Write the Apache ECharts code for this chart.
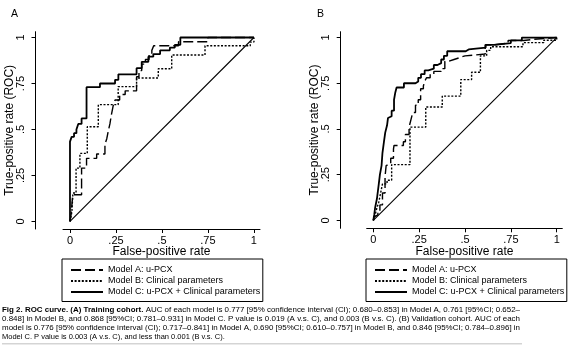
<!DOCTYPE html>
<html><head><meta charset="utf-8">
<script src="https://cdn.jsdelivr.net/npm/echarts@6/dist/echarts.min.js"></script>
<style>html,body{margin:0;padding:0;background:#fff}#c{width:568px;height:356px}</style>
</head><body><div id="c"></div>
<script>
// ---------- data ----------
const tickValues = [0, 0.25, 0.5, 0.75, 1];
const tickLabels = ['0', '.25', '.5', '.75', '1'];
const seriesNames = ['Model A: u-PCX', 'Model B: Clinical parameters', 'Model C: u-PCX + Clinical parameters'];
const panelLabels = ['A', 'B'];
const xTitle = 'False-positive rate';
const yTitle = 'True-positive rate (ROC)';

// (A) Training cohort
const trainA = [[0,0],[0.005,0.03],[0.015,0.145],[0.063,0.29],[0.09,0.343],[0.145,0.367],[0.19,0.42],[0.2,0.45],[0.21,0.5],[0.217,0.53],[0.225,0.58],[0.235,0.63],[0.245,0.66],[0.27,0.69],[0.3,0.71],[0.362,0.787],[0.375,0.82],[0.39,0.855],[0.41,0.88],[0.43,0.91],[0.445,0.93],[0.455,0.955],[0.59,0.977],[0.75,1],[1,1]];
const trainB = [[0,0],[0.01,0.05],[0.016,0.155],[0.033,0.29],[0.054,0.37],[0.094,0.515],[0.154,0.635],[0.262,0.733],[0.362,0.78],[0.48,0.83],[0.553,0.905],[0.734,0.955],[0.96,0.955],[0.98,0.975],[1,1]];
const trainC = [[0,0],[0,0.434],[0.009,0.46],[0.022,0.48],[0.035,0.5],[0.045,0.53],[0.063,0.56],[0.09,0.73],[0.163,0.75],[0.245,0.77],[0.263,0.8],[0.362,0.833],[0.39,0.868],[0.426,0.896],[0.453,0.91],[0.49,0.93],[0.543,0.945],[0.57,0.96],[0.6,1],[1,1]];
// (B) Validation cohort
const validA = [[0,0],[0.005,0.02],[0.015,0.03],[0.025,0.05],[0.036,0.085],[0.05,0.15],[0.064,0.24],[0.07,0.3],[0.08,0.31],[0.095,0.34],[0.11,0.39],[0.113,0.41],[0.164,0.43],[0.175,0.47],[0.195,0.51],[0.205,0.55],[0.215,0.59],[0.23,0.63],[0.245,0.66],[0.258,0.72],[0.273,0.735],[0.28,0.76],[0.29,0.78],[0.31,0.8],[0.33,0.815],[0.37,0.83],[0.39,0.87],[0.41,0.88],[0.44,0.89],[0.47,0.9],[0.5,0.91],[0.61,0.96],[0.658,0.97],[0.735,0.984],[0.82,0.99],[0.87,1],[1,1]];
const validB = [[0,0],[0.01,0.03],[0.02,0.07],[0.03,0.1],[0.04,0.15],[0.05,0.2],[0.075,0.22],[0.1,0.305],[0.2,0.51],[0.286,0.62],[0.376,0.68],[0.477,0.77],[0.536,0.81],[0.584,0.9],[0.618,0.93],[0.64,0.95],[0.816,0.972],[0.93,0.985],[1,1]];
const validC = [[0,0],[0.005,0.03],[0.01,0.07],[0.02,0.12],[0.03,0.2],[0.036,0.25],[0.045,0.3],[0.05,0.37],[0.058,0.43],[0.065,0.48],[0.075,0.52],[0.08,0.56],[0.09,0.57],[0.1,0.6],[0.113,0.66],[0.12,0.7],[0.127,0.727],[0.167,0.75],[0.23,0.76],[0.245,0.78],[0.26,0.8],[0.28,0.82],[0.3,0.83],[0.33,0.85],[0.35,0.86],[0.37,0.88],[0.385,0.9],[0.403,0.925],[0.504,0.935],[0.52,0.945],[0.613,0.96],[0.658,0.97],[0.75,0.985],[0.81,1],[1,1]];
const diagonal = [[0,0],[1,1]];

const captionLines = [
  ['Fig 2. ROC curve. (A) Training cohort.', ' AUC of each model is 0.777 [95% confidence interval (CI); 0.680\u20130.853] in Model A, 0.761 [95%CI; 0.652\u2013'],
  ['', '0.848] in Model B, and 0.868 [95%CI; 0.781\u20130.931] in Model C. P value is 0.019 (A v.s. C), and 0.003 (B v.s. C). (B) Validation cohort. AUC of each'],
  ['', 'model is 0.776 [95% confidence interval (CI); 0.717\u20130.841] in Model A, 0.690 [95%CI; 0.610\u20130.757] in Model B, and 0.846 [95%CI; 0.784\u20130.896] in'],
  ['', 'Model C. P value is 0.003 (A v.s. C), and less than 0.001 (B v.s. C).']
];

// ---------- chart ----------
const FONT = "'Liberation Sans', Arial, Helvetica, sans-serif";
const chart = echarts.init(document.getElementById('c'), null, {renderer: 'canvas'});

const lineStyles = [
  {color: '#000', width: 1.4, type: [10, 4]},
  {color: '#000', width: 1.4, type: [2, 1.6]},
  {color: '#000', width: 1.8, type: 'solid'}
];

const panels = [
  {grid: {left: 63, top: 31.7, width: 197, height: 197.3},
   x: {min: -0.038, max: 1.033}, y: {min: -0.041, max: 1.0315},
   yOffset: 27.5, data: [trainA, trainB, trainC], legendLeft: 62},
  {grid: {left: 366.7, top: 31.7, width: 195.6, height: 196.6},
   x: {min: -0.036, max: 1.0305}, y: {min: -0.043, max: 1.032},
   yOffset: 26, data: [validA, validB, validC], legendLeft: 366}
];

const fmt = v => { const i = tickValues.findIndex(t => Math.abs(t - v) < 1e-9); return i >= 0 ? tickLabels[i] : ''; };

const option = {
  backgroundColor: '#fff',
  animation: false,
  textStyle: {fontFamily: FONT, color: '#000'},
  title: panels.map((p, i) => ({
    text: panelLabels[i], left: i === 0 ? 6 : 312, top: 4,
    textStyle: {fontSize: 10.5, fontWeight: 'normal', color: '#000', fontFamily: FONT}
  })),
  grid: panels.map(p => Object.assign({containLabel: false}, p.grid)),
  xAxis: panels.map((p, i) => ({
    type: 'value', gridIndex: i, min: p.x.min, max: p.x.max,
    name: xTitle, nameLocation: 'middle', nameGap: 17, nameMoveOverlap: false,
    nameTextStyle: {fontSize: 12, color: '#000', fontFamily: FONT},
    axisLine: {show: true, onZero: false, lineStyle: {color: '#000', width: 1}},
    axisTick: {show: true, length: 4, customValues: tickValues, lineStyle: {color: '#000', width: 1}},
    axisLabel: {customValues: tickValues, formatter: fmt, fontSize: 11, color: '#000', margin: 6, fontFamily: FONT},
    splitLine: {show: false}
  })),
  yAxis: panels.map((p, i) => ({
    type: 'value', gridIndex: i, min: p.y.min, max: p.y.max, offset: p.yOffset,
    name: yTitle, nameLocation: 'middle', nameGap: 20, nameRotate: 90, nameMoveOverlap: false,
    nameTextStyle: {fontSize: 12, color: '#000', fontFamily: FONT},
    axisLine: {show: true, onZero: false, lineStyle: {color: '#000', width: 1}},
    axisTick: {show: true, length: 4, customValues: tickValues, lineStyle: {color: '#000', width: 1}},
    axisLabel: {customValues: tickValues, formatter: fmt, fontSize: 11, color: '#000', rotate: 90, margin: 9, fontFamily: FONT},
    splitLine: {show: false}
  })),
  legend: panels.map((p, i) => ({
    data: seriesNames, orient: 'vertical', left: p.legendLeft, top: 259,
    itemWidth: 32, itemHeight: 10, itemGap: 2,
    padding: [6.5, 2.5, 5, 8],
    borderColor: '#000', borderWidth: 1, borderRadius: 0,
    selectedMode: false,
    itemStyle: {opacity: 0},
    textStyle: {fontSize: 9, color: '#000', fontFamily: FONT}
  })),
  series: [],
  graphic: []
};

panels.forEach((p, i) => {
  option.series.push({
    type: 'line', xAxisIndex: i, yAxisIndex: i, data: diagonal, symbol: 'none', silent: true,
    lineStyle: {color: '#000', width: 1.1}, z: 1
  });
  p.data.forEach((d, k) => {
    option.series.push({
      name: seriesNames[k], type: 'line', xAxisIndex: i, yAxisIndex: i, data: d,
      step: 'end', symbol: 'none', showSymbol: false, lineStyle: lineStyles[k], itemStyle: {color: '#000'}, z: 2 + k
    });
  });
});

// caption: justified lines (stretch all but the last to the text block width)
const CAP_SIZE = 7.5, CAP_LEFT = 2, CAP_WIDTH = 518;
const mctx = document.createElement('canvas').getContext('2d');
const measure = (t, bold) => { mctx.font = (bold ? 'bold ' : '') + CAP_SIZE + 'px ' + FONT; return mctx.measureText(t).width; };
captionLines.forEach((ln, j) => {
  const w = measure(ln[0], true) + measure(ln[1], false);
  const last = j === captionLines.length - 1;
  const sx = last ? 1 : CAP_WIDTH / w;
  option.graphic.push({
    type: 'text', x: CAP_LEFT, y: 305.5 + j * 9, scaleX: sx,
    style: {
      text: (ln[0] ? '{b|' + ln[0] + '}' : '') + ln[1],
      fontSize: CAP_SIZE, fontFamily: FONT, fill: '#000',
      rich: {b: {fontSize: CAP_SIZE, fontWeight: 'bold', fontFamily: FONT, fill: '#000', color: '#000'}}
    }
  });
});
option.graphic.push({type: 'rect', shape: {x: 2, y: 343.5, width: 520, height: 0.8}, style: {fill: '#aaa'}});

chart.setOption(option);
</script></body></html>
